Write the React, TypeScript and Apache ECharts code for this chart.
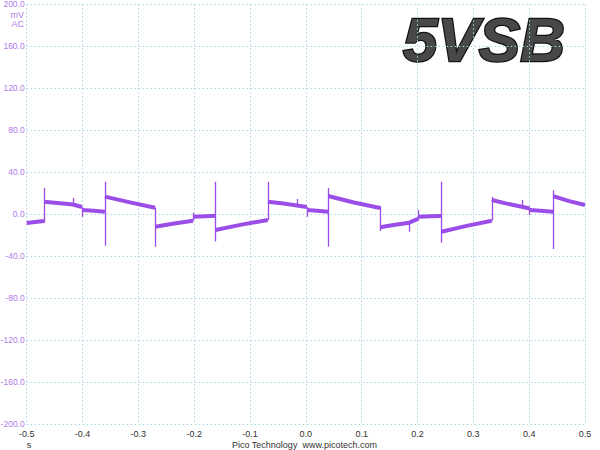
import React, { useEffect, useRef } from "react";
import * as echarts from "echarts";

// Time axis (s) and voltage axis (mV)
const xTickValues = [-0.5, -0.4, -0.3, -0.2, -0.1, 0.0, 0.1, 0.2, 0.3, 0.4, 0.5];
const yTickValues = [-200, -160, -120, -80, -40, 0, 40, 80, 120, 160, 200];

// Thick noisy level segments of the trace: [time s, mV]
const levelSegments: [number, number][][] = [
  [[-0.5, -8.3], [-0.485, -7.4], [-0.469, -6.3]],
  [[-0.469, 12.0], [-0.44, 10.6], [-0.417, 9.3], [-0.401, 7.0]],
  [[-0.401, 4.1], [-0.38, 3.3], [-0.36, 2.5]],
  [[-0.36, 16.8], [-0.315, 11.4], [-0.27, 6.3]],
  [[-0.27, -11.8], [-0.236, -8.7], [-0.202, -6.1]],
  [[-0.202, -2.3], [-0.18, -1.8], [-0.162, -1.3]],
  [[-0.162, -15.0], [-0.115, -9.8], [-0.068, -5.4]],
  [[-0.068, 12.0], [-0.04, 10.2], [-0.016, 8.4], [0.002, 7.0]],
  [[0.002, 4.1], [0.02, 3.3], [0.04, 2.5]],
  [[0.04, 17.4], [0.086, 11.2], [0.133, 6.0]],
  [[0.133, -12.4], [0.16, -10.0], [0.185, -8.0], [0.202, -4.0]],
  [[0.202, -2.3], [0.222, -1.9], [0.243, -1.6]],
  [[0.243, -16.6], [0.288, -11.0], [0.333, -6.1]],
  [[0.333, 13.6], [0.36, 10.2], [0.387, 7.2], [0.401, 5.5]],
  [[0.401, 4.1], [0.42, 3.3], [0.443, 2.5]],
  [[0.443, 17.4], [0.47, 12.8], [0.5, 8.9]],
];

// Transition spikes: [time s, low mV, high mV]
const spikes: [number, number, number][] = [
  [-0.469, -8, 25],
  [-0.417, 9, 15.5],
  [-0.401, -2.3, 7],
  [-0.36, -30, 31],
  [-0.27, -31, 6.3],
  [-0.202, -6.1, 1.5],
  [-0.162, -26, 31],
  [-0.068, -5.4, 31],
  [-0.016, 8, 14.6],
  [0.002, -2.3, 7],
  [0.04, -31, 25],
  [0.133, -16, 8],
  [0.185, -16.6, -7.5],
  [0.202, -4, 4.1],
  [0.243, -27, 31],
  [0.333, -6.1, 16.5],
  [0.387, 7, 13.6],
  [0.401, -0.7, 5.5],
  [0.443, -33, 23],
];

const TRACE = "#9b4de8";
const GRIDC = "#a9d6e3";
const YLAB = "#b07ae6";
const FONT = "Liberation Sans, Arial, sans-serif";
const DOTS = [1.5, 2.5];

export default function App() {
  const ref = useRef<HTMLDivElement>(null);
  useEffect(() => {
    if (!ref.current) return;
    const chart = echarts.init(ref.current, null, { renderer: "svg" });
    const fmt = (v: number) => (Math.abs(v) < 1e-9 ? "0.0" : v.toFixed(1));
    const gridLine = { color: GRIDC, type: DOTS, width: 1 };
    chart.setOption({
      animation: false,
      backgroundColor: "#ffffff",
      grid: { left: 26.7, right: 15, top: 4.3, bottom: 25.7, containLabel: false, outerBoundsMode: "none" },
      xAxis: {
        type: "value",
        min: xTickValues[0],
        max: xTickValues[xTickValues.length - 1],
        interval: 0.1,
        axisLine: { show: false, onZero: false },
        axisTick: { show: false },
        axisLabel: { color: "#333", fontSize: 9, fontFamily: FONT, margin: 5, formatter: fmt },
        splitLine: { show: true, lineStyle: gridLine },
      },
      yAxis: {
        type: "value",
        min: yTickValues[0],
        max: yTickValues[yTickValues.length - 1],
        interval: 40,
        axisLine: { show: false, onZero: false },
        axisTick: { show: false },
        axisLabel: { color: YLAB, fontSize: 8.5, fontFamily: FONT, margin: 2, formatter: fmt },
        splitLine: { show: true, lineStyle: gridLine },
      },
      series: [
        {
          type: "lines",
          coordinateSystem: "cartesian2d",
          silent: true,
          data: spikes.map((s) => ({ coords: [[s[0], s[1]], [s[0], s[2]]] })),
          lineStyle: { color: TRACE, width: 1.3, opacity: 1, curveness: 0 },
        },
        {
          type: "lines",
          coordinateSystem: "cartesian2d",
          polyline: true,
          silent: true,
          data: levelSegments.map((c) => ({ coords: c })),
          lineStyle: { color: TRACE, width: 4, opacity: 1, curveness: 0 },
        },
      ],
      graphic: [
        {
          type: "text",
          style: { x: 24, y: 15, text: "mV", fill: YLAB, fontSize: 9, fontFamily: FONT, textAlign: "right", textVerticalAlign: "middle" },
        },
        {
          type: "text",
          style: { x: 24, y: 24, text: "AC", fill: YLAB, fontSize: 9, fontFamily: FONT, textAlign: "right", textVerticalAlign: "middle" },
        },
        {
          type: "text",
          style: { x: 29, y: 445, text: "s", fill: "#333", fontSize: 9, fontFamily: FONT, textAlign: "center", textVerticalAlign: "middle" },
        },
        {
          type: "text",
          style: { x: 232, y: 445, text: "Pico Technology  www.picotech.com", fill: "#333", fontSize: 9, fontFamily: FONT, textAlign: "left", textVerticalAlign: "middle" },
        },
        {
          type: "text",
          style: {
            x: 403,
            y: 39,
            text: "5VSB",
            fontSize: 62,
            fontWeight: "bold",
            fontStyle: "italic",
            fontFamily: FONT,
            textAlign: "left",
            textVerticalAlign: "middle",
            fill: "#484848",
            stroke: "#121212",
            lineWidth: 2.5,
            shadowColor: "rgba(0,0,0,0.45)",
            shadowBlur: 2,
            shadowOffsetX: 1,
            shadowOffsetY: 1,
          },
        },
      ],
    });
    return () => chart.dispose();
  }, []);
  return (
    <div
      ref={ref}
      style={{ position: "absolute", left: 0, top: 0, width: 600, height: 450, background: "#fff" }}
    />
  );
}
